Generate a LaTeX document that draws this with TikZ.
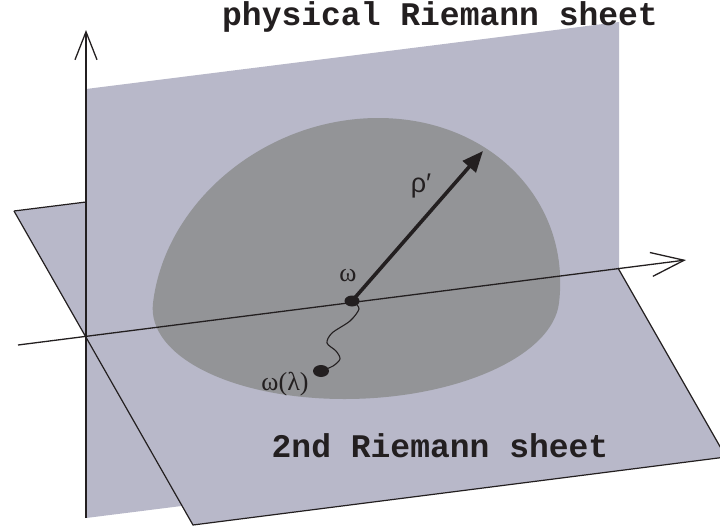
\documentclass[tikz,border=0pt]{standalone}
\usepackage{fontspec}
\setmonofont{Liberation Mono}
\newfontfamily\grserif{Liberation Serif}
\newfontfamily\grsans{Liberation Sans}
\usetikzlibrary{arrows.meta,shapes.geometric}
\definecolor{sheet}{HTML}{B8B8C9}
\definecolor{dome}{HTML}{939497}
\definecolor{ink}{HTML}{231F20}
\begin{document}
\begin{tikzpicture}[x=1pt,y=-1pt,
  axisline/.style={draw=ink,line width=1.3pt},
  edgeline/.style={draw=ink,line width=1.2pt},
  dotmark/.style={ellipse,fill=ink,inner sep=0pt,minimum width=15pt,minimum height=11pt},
  sheetlabel/.style={font=\ttfamily\bfseries\fontsize{33}{33}\selectfont,text=ink,inner sep=0pt,anchor=base},
  greek/.style={text=ink,inner sep=0pt}]
\useasboundingbox (0,0) rectangle (720,531);
\clip (0,0) rectangle (720,531);
% horizontal plane corners
\coordinate (A) at (14,211);
\coordinate (B) at (547,144);
\coordinate (C) at (726,457);
\coordinate (D) at (193,525);
\coordinate (At) at (86,202);
\coordinate (E) at (618,268);
% vertical plane corners
\coordinate (P1) at (86,89);
\coordinate (P2) at (619,22);
\coordinate (P3) at (619,451);
\coordinate (P4) at (86,518);
\fill[sheet] (A)--(B)--(C)--(D)--cycle;
\fill[sheet] (P1)--(P2)--(P3)--(P4)--cycle;
% dome: upper half-ellipse and lower base half-ellipse, slightly sheared
\begin{scope}[shift={(356,303)},cm={1,0,0.12,1,(0pt,0pt)}]
  \fill[dome] (-203pt,0pt) arc[start angle=180,end angle=0,x radius=203pt,y radius=185pt]
    arc[start angle=0,end angle=-180,x radius=203pt,y radius=96pt] -- cycle;
\end{scope}
% plane edges
\draw[edgeline] (A)--(At);
\draw[edgeline] (A)--(D)--(C)--(E);
% axes
\coordinate (vb) at (86,518);
\coordinate (vt) at (86,30);
\coordinate (hl) at (18,345);
\coordinate (hr) at (686,260);
\draw[axisline,-{Straight Barb[length=28pt,width=22pt,line width=1.3pt]}] (vb)--(vt);
\draw[axisline,-{Straight Barb[length=33pt,width=24pt,line width=1.3pt]}] (hl)--(hr);
% points
\node[dotmark] (w) at (352,301) {};
\node[dotmark,minimum width=16pt,minimum height=12pt] (wl) at (321,371) {};
\coordinate (rtip) at (483,151);
\draw[ink,line width=3.6pt,-{Triangle[length=21pt,width=17pt]}] (w.center)--(rtip);
\draw[ink,line width=1.1pt] plot[smooth] coordinates {(354,302) (359,309) (350,321) (332,333) (327,343) (336,351) (340,359) (333,366) (321,371)};
% labels
\node[greek,font=\grserif\fontsize{26}{26}\selectfont] (lw) at (348,276) {ω};
\node[greek,font=\grserif\fontsize{26}{26}\selectfont] (lwl) at (285,384) {ω(λ)};
\node[greek,font=\grsans\fontsize{27}{27}\selectfont] (lr) at (421,186) {ρ′};
\node[sheetlabel] (t1) at (440,25) {physical Riemann sheet};
\node[sheetlabel] (t2) at (440,457) {2nd Riemann sheet};
\end{tikzpicture}
\end{document}
